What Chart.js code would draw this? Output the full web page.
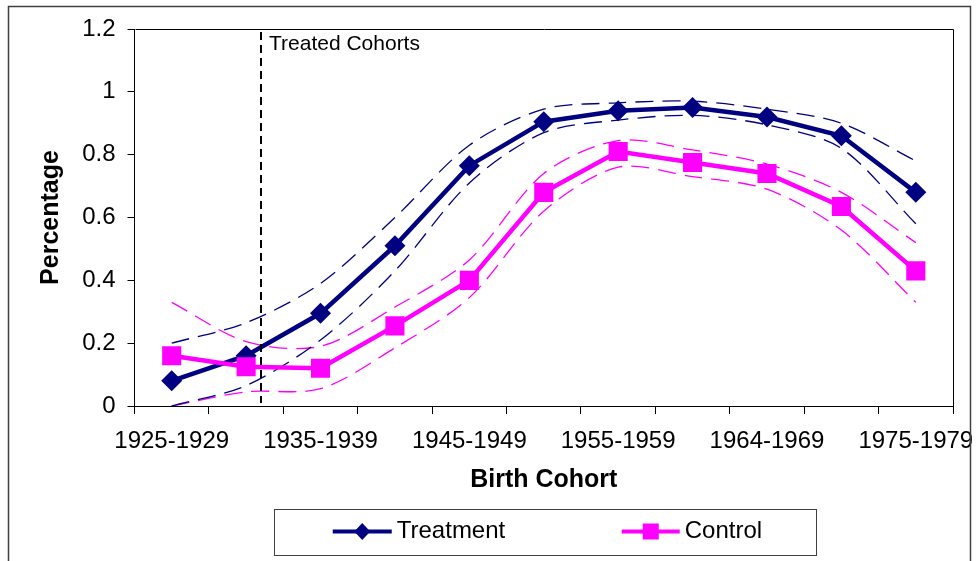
<!DOCTYPE html>
<html>
<head>
<meta charset="utf-8">
<style>
  html, body { margin: 0; padding: 0; background: #ffffff; }
  #wrap { width: 976px; height: 561px; position: relative; overflow: hidden; }
  canvas { display: block; }
</style>
<script src="https://cdn.jsdelivr.net/npm/chart.js@4.4.1/dist/chart.umd.min.js"></script>
</head>
<body>
<div id="wrap"><canvas id="chart" width="976" height="561"></canvas></div>
<script>
// ---------------- DATA ----------------
const categories = ["1925-1929", "1930-1934", "1935-1939", "1940-1944", "1945-1949", "1950-1954",
                    "1955-1959", "1960-1964", "1964-1969", "1970-1974", "1975-1979"];
const shownTickLabels = ["1925-1929", "", "1935-1939", "", "1945-1949", "",
                         "1955-1959", "", "1964-1969", "", "1975-1979"];
const treatment      = [0.08, 0.16, 0.295, 0.51, 0.765, 0.905, 0.94, 0.95, 0.92, 0.86, 0.68];
const treatmentUpper = [0.20, 0.265, 0.39, 0.60, 0.83, 0.945, 0.965, 0.97, 0.945, 0.90, 0.78];
const treatmentLower = [0.00, 0.065, 0.21, 0.43, 0.71, 0.87, 0.91, 0.925, 0.895, 0.82, 0.58];
const control        = [0.16, 0.125, 0.12, 0.255, 0.40, 0.68, 0.81, 0.775, 0.74, 0.635, 0.43];
const controlUpper   = [0.33, 0.205, 0.19, 0.315, 0.465, 0.74, 0.845, 0.815, 0.77, 0.68, 0.52];
const controlLower   = [0.00, 0.045, 0.055, 0.185, 0.345, 0.62, 0.76, 0.73, 0.69, 0.56, 0.33];
const yMin = 0, yMax = 1.2, yStep = 0.2;
const treatedDividerIndex = 1.2;   // position on the category axis (in category units)
const treatedLabel = "Treated Cohorts";
const seriesNames = ["Treatment", "Control"];
const axisTitles = { x: "Birth Cohort", y: "Percentage" };

// ---------------- STYLE ----------------
const NAVY = "#000080";
const MAGENTA = "#FF00FF";
const FONT = "'Liberation Sans', Arial, Helvetica, sans-serif";

const framePlugin = {
  id: "frame",
  beforeDraw(chart) {
    const ctx = chart.ctx;
    ctx.save();
    ctx.fillStyle = "#ffffff";
    ctx.fillRect(0, 0, chart.width, chart.height);
    ctx.restore();
  },
  afterDatasetsDraw(chart) {
    const ctx = chart.ctx;
    const x = chart.scales.x.getPixelForValue(treatedDividerIndex);
    const ca = chart.chartArea;
    ctx.save();
    ctx.strokeStyle = "#000000";
    ctx.lineWidth = 2;
    ctx.setLineDash([8, 5]);
    ctx.beginPath();
    ctx.moveTo(Math.round(x), ca.top + 3);
    ctx.lineTo(Math.round(x), ca.bottom - 3);
    ctx.stroke();
    ctx.setLineDash([]);
    ctx.fillStyle = "#000000";
    ctx.font = "21px " + FONT;
    ctx.textBaseline = "middle";
    ctx.textAlign = "left";
    ctx.fillText(treatedLabel, Math.round(x) + 8, ca.top + 15);
    ctx.restore();
  },
  afterDraw(chart) {
    const ctx = chart.ctx;
    const ca = chart.chartArea;
    ctx.save();
    // plot area border (top and right)
    ctx.strokeStyle = "#000000";
    ctx.lineWidth = 1;
    ctx.beginPath();
    ctx.moveTo(Math.round(ca.left) + 0.5, Math.round(ca.top) + 0.5);
    ctx.lineTo(Math.round(ca.right) + 0.5, Math.round(ca.top) + 0.5);
    ctx.lineTo(Math.round(ca.right) + 0.5, Math.round(ca.bottom) + 0.5);
    ctx.stroke();
    // outer chart frame
    ctx.strokeStyle = "#404040";
    ctx.lineWidth = 1.5;
    ctx.beginPath();
    ctx.moveTo(8.5, chart.height + 2);
    ctx.lineTo(8.5, 6.5);
    ctx.lineTo(970.5, 6.5);
    ctx.lineTo(970.5, chart.height + 2);
    ctx.stroke();

    // legend
    const cx = (ca.left + ca.right) / 2;
    const bx = Math.round(cx - 270) + 0.5, by = 509.5, bw = 542, bh = 46;
    ctx.strokeStyle = "#404040";
    ctx.lineWidth = 1;
    ctx.strokeRect(bx, by, bw, bh);
    const ly = by + 22;
    ctx.font = "24px " + FONT;
    ctx.textBaseline = "middle";
    ctx.textAlign = "left";
    // Treatment
    let x0 = cx - 211, x1 = cx - 152;
    ctx.strokeStyle = NAVY; ctx.lineWidth = 4;
    ctx.beginPath(); ctx.moveTo(x0, ly); ctx.lineTo(x1, ly); ctx.stroke();
    let mx = (x0 + x1) / 2;
    ctx.fillStyle = NAVY;
    ctx.beginPath();
    ctx.moveTo(mx - 8, ly); ctx.lineTo(mx, ly - 8.5); ctx.lineTo(mx + 8, ly); ctx.lineTo(mx, ly + 8.5);
    ctx.closePath(); ctx.fill();
    ctx.fillStyle = "#000000";
    ctx.fillText(seriesNames[0], x1 + 5, ly);
    // Control
    x0 = cx + 78; x1 = cx + 136;
    ctx.strokeStyle = MAGENTA; ctx.lineWidth = 4;
    ctx.beginPath(); ctx.moveTo(x0, ly); ctx.lineTo(x1, ly); ctx.stroke();
    mx = (x0 + x1) / 2;
    ctx.fillStyle = MAGENTA;
    ctx.fillRect(mx - 8, ly - 8, 16, 16);
    ctx.fillStyle = "#000000";
    ctx.fillText(seriesNames[1], x1 + 5, ly);
    ctx.restore();
  }
};

function band(data, color) {
  return {
    data: data,
    borderColor: color,
    borderWidth: 1.3,
    borderDash: [18, 9],
    pointRadius: 0,
    pointHoverRadius: 0,
    tension: 0.3,
    fill: false,
    order: 2
  };
}

const chart = new Chart(document.getElementById("chart"), {
  type: "line",
  data: {
    labels: categories,
    datasets: [
      {
        label: seriesNames[1],
        data: control,
        borderColor: MAGENTA,
        backgroundColor: MAGENTA,
        borderWidth: 4.5,
        pointStyle: "rect",
        pointRadius: 13.5,
        pointBorderWidth: 0,
        pointBackgroundColor: MAGENTA,
        tension: 0,
        order: 0
      },
      {
        label: seriesNames[0],
        data: treatment,
        borderColor: NAVY,
        backgroundColor: NAVY,
        borderWidth: 4.5,
        pointStyle: "rectRot",
        pointRadius: 10.5,
        pointBorderWidth: 0,
        pointBackgroundColor: NAVY,
        tension: 0,
        order: 1
      },
      band(treatmentUpper, NAVY),
      band(treatmentLower, NAVY),
      band(controlUpper, MAGENTA),
      band(controlLower, MAGENTA)
    ]
  },
  options: {
    responsive: false,
    devicePixelRatio: 1,
    animation: false,
    events: [],
    layout: { padding: { left: 10, right: 23, top: 29, bottom: 60 } },
    plugins: {
      legend: { display: false },
      tooltip: { enabled: false },
      title: { display: false }
    },
    scales: {
      x: {
        type: "category",
        offset: true,
        grid: {
          offset: true,
          drawOnChartArea: false,
          drawTicks: true,
          tickLength: 8,
          color: "#000000",
          lineWidth: 1
        },
        border: { display: true, color: "#000000", width: 1 },
        ticks: {
          autoSkip: false,
          maxRotation: 0,
          minRotation: 0,
          padding: 13,
          color: "#000000",
          font: { family: FONT, size: 24 },
          callback: function (value, index) { return shownTickLabels[index]; }
        },
        title: {
          display: true,
          text: axisTitles.x,
          color: "#000000",
          font: { family: FONT, size: 25, weight: "bold" },
          padding: { top: 0, bottom: 6 }
        },
        afterFit(scale) {
          scale.height = 95;
          scale.paddingLeft = 0;
          scale.paddingRight = 0;
        }
      },
      y: {
        min: yMin,
        max: yMax,
        grid: {
          drawOnChartArea: false,
          drawTicks: true,
          tickLength: 7,
          color: "#000000",
          lineWidth: 1
        },
        border: { display: true, color: "#000000", width: 1 },
        ticks: {
          stepSize: yStep,
          padding: 12,
          color: "#000000",
          font: { family: FONT, size: 24 },
          callback: function (v) { return String(Math.round(v * 10) / 10); }
        },
        title: {
          display: true,
          text: axisTitles.y,
          color: "#000000",
          font: { family: FONT, size: 25, weight: "bold" },
          padding: { top: 26, bottom: 0 }
        },
        afterFit(scale) {
          scale.width = 124.5;
          scale.paddingTop = 0;
          scale.paddingBottom = 0;
        }
      }
    }
  },
  plugins: [framePlugin]
});
</script>
</body>
</html>
